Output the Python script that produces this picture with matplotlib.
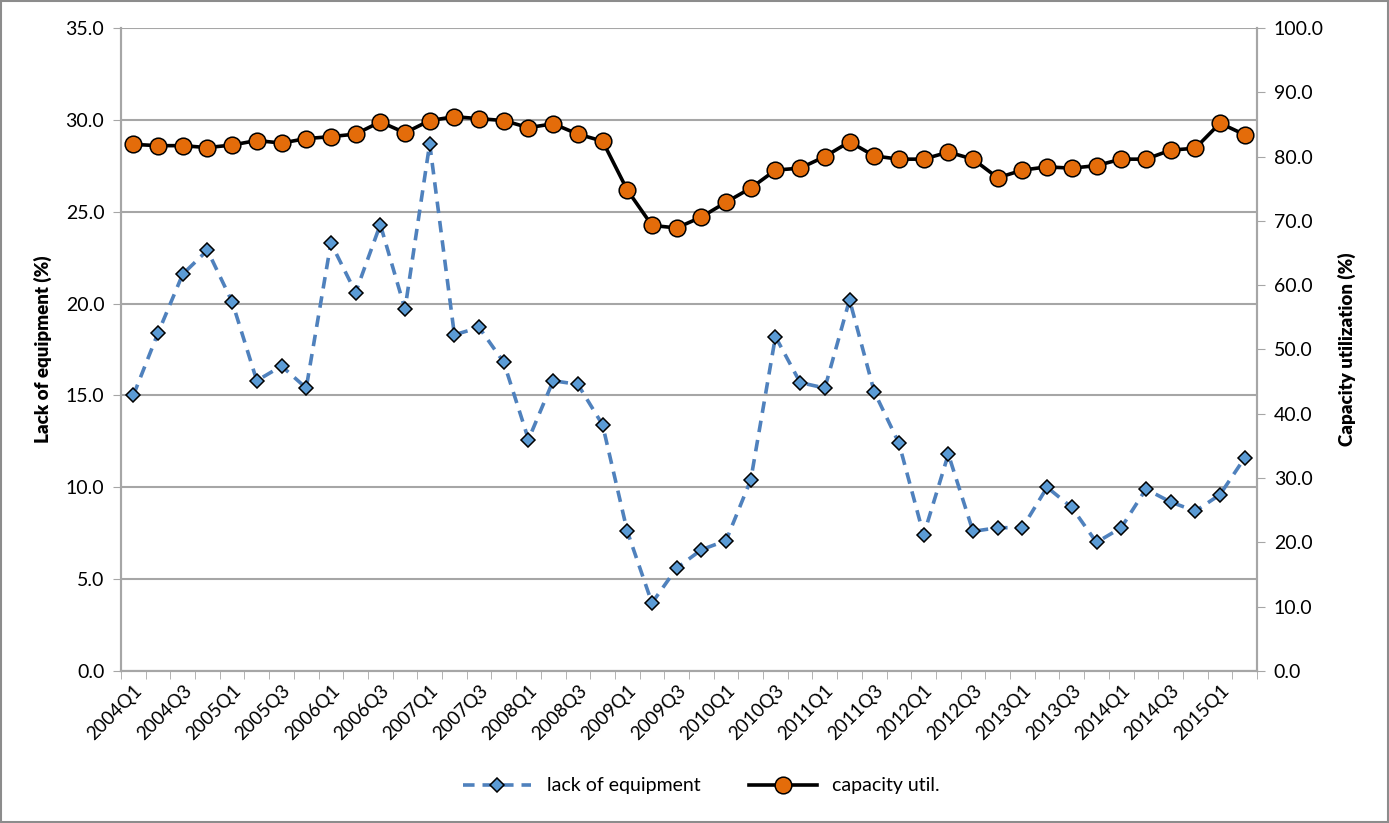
import matplotlib
matplotlib.use("Agg")
import matplotlib.pyplot as plt
from matplotlib.ticker import FixedLocator, MultipleLocator, FormatStrFormatter

plt.rcParams['font.family'] = ['Lato', 'DejaVu Sans']

# quarters 2004Q1 .. 2015Q2
quarters = [f"{y}Q{q}" for y in range(2004, 2016) for q in range(1, 5)][:46]

lack_of_equipment = [15.0, 18.4, 21.6, 22.9, 20.1, 15.8, 16.6, 15.4, 23.3, 20.6,
                     24.3, 19.7, 28.7, 18.3, 18.7, 16.8, 12.6, 15.8, 15.6, 13.4,
                     7.6, 3.7, 5.6, 6.6, 7.1, 10.4, 18.2, 15.7, 15.4, 20.2,
                     15.2, 12.4, 7.4, 11.8, 7.6, 7.8, 7.8, 10.0, 8.9, 7.0,
                     7.8, 9.9, 9.2, 8.7, 9.6, 11.6]

capacity_util = [81.9, 81.7, 81.7, 81.4, 81.8, 82.5, 82.1, 82.8, 83.1, 83.5,
                 85.4, 83.7, 85.6, 86.2, 85.9, 85.6, 84.5, 85.1, 83.5, 82.4,
                 74.8, 69.3, 68.9, 70.6, 72.9, 75.1, 77.9, 78.2, 80.0, 82.3,
                 80.1, 79.6, 79.6, 80.7, 79.6, 76.7, 77.9, 78.4, 78.2, 78.6,
                 79.6, 79.6, 81.0, 81.3, 85.2, 83.4]

grid_col = '#a6a6a6'
x = list(range(len(quarters)))

fig = plt.figure(figsize=(13.89, 8.23), dpi=100)
ax = fig.add_axes([0.0871, 0.1847, 0.8179, 0.7813])
ax2 = ax.twinx()

ax.plot(x, lack_of_equipment, linestyle=(0, (3.2, 2.2)), color='#4f81bd', linewidth=2.6,
        marker='D', markersize=7.5, markerfacecolor='#5b9bd5', markeredgecolor='black',
        markeredgewidth=1.1, label='lack of equipment', zorder=3)
ax2.plot(x, capacity_util, color='black', linewidth=2.6, marker='o', markersize=12,
         markerfacecolor='#e46c0a', markeredgecolor='black', markeredgewidth=1.1,
         label='capacity util.', zorder=3)

ax.set_xlim(-0.5, len(quarters) - 0.5)
ax.set_ylim(0, 35)
ax2.set_ylim(0, 100)
ax.yaxis.set_major_locator(MultipleLocator(5))
ax2.yaxis.set_major_locator(MultipleLocator(10))
ax.yaxis.set_major_formatter(FormatStrFormatter('%.1f'))
ax2.yaxis.set_major_formatter(FormatStrFormatter('%.1f'))

ax.set_xticks(x[::2])
ax.set_xticklabels(quarters[::2], rotation=45, ha='right', rotation_mode='anchor')
ax.xaxis.set_minor_locator(FixedLocator([i - 0.5 for i in range(len(quarters) + 1)]))
ax.tick_params(axis='x', which='major', length=0, pad=8, labelsize=13.5)
ax.tick_params(axis='x', which='minor', length=6, color=grid_col, direction='out')
ax.tick_params(axis='y', length=6, color=grid_col, labelsize=14, pad=6)
ax2.tick_params(axis='y', length=6, color=grid_col, labelsize=14, pad=6)

ax.grid(axis='y', color=grid_col, linewidth=1.5)
ax.set_axisbelow(True)
for a in (ax, ax2):
    a.spines['top'].set_visible(False)
    for s in ('left', 'right', 'bottom'):
        a.spines[s].set_color(grid_col)
        a.spines[s].set_linewidth(1.5)

ax.set_ylabel('Lack of equipment (%)', fontsize=13.5, fontweight='heavy', labelpad=10)
ax2.set_ylabel('Capacity utilization (%)', fontsize=13.5, fontweight='heavy', labelpad=10)

h1, l1 = ax.get_legend_handles_labels()
h2, l2 = ax2.get_legend_handles_labels()
fig.legend(h1 + h2, l1 + l2, loc='center', bbox_to_anchor=(0.505, 0.045), ncol=2,
           frameon=False, fontsize=14, handlelength=3.5, columnspacing=2.5)

border = plt.Rectangle((0.001, 0.001), 0.998, 0.998, transform=fig.transFigure,
                       fill=False, edgecolor='#8c8c8c', linewidth=1.5)
fig.patches.append(border)

fig.savefig('out.png', dpi=100)
